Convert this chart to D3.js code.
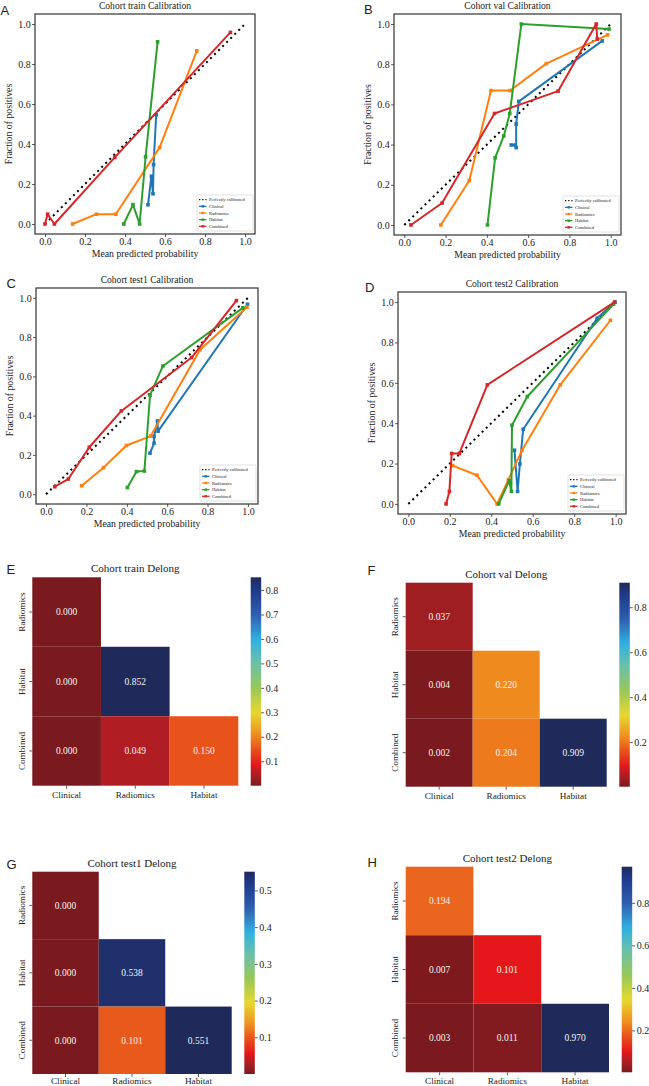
<!DOCTYPE html>
<html>
<head>
<meta charset="utf-8">
<script src="https://cdn.jsdelivr.net/npm/d3@7/dist/d3.min.js"></script>
<style>
  body { margin: 0; background: #fff; }
  svg { display: block; }
</style>
</head>
<body>
<svg id="fig" width="649" height="1086"></svg>
<script>
// ---- data ----
const models = ['Clinical', 'Radiomics', 'Habitat', 'Combined'];
const modelColors = ['#1f77b4', '#ff7f0e', '#2ca02c', '#d62728'];
const calTicks = [0, 0.2, 0.4, 0.6, 0.8, 1.0];
const perfectLine = [[0, 0], [1, 1]];

// calibration curves: [mean predicted, fraction of positives], one list per model
const trainCal = [
    [[0.515, 0.096], [0.532, 0.239], [0.540, 0.151], [0.543, 0.297], [0.556, 0.546]],
    [[0.138, 0.0], [0.257, 0.049], [0.354, 0.049], [0.573, 0.382], [0.759, 0.866]],
    [[0.394, 0.0], [0.440, 0.097], [0.473, 0.0], [0.503, 0.336], [0.563, 0.911]],
    [[0.0, 0.0], [0.013, 0.049], [0.047, 0.0], [0.349, 0.333], [0.927, 0.958]]
];
const valCal = [
    [[0.518, 0.398], [0.537, 0.398], [0.542, 0.385], [0.542, 0.502], [0.555, 0.615], [0.959, 0.916]],
    [[0.177, 0.0], [0.315, 0.221], [0.420, 0.669], [0.513, 0.669], [0.688, 0.803], [0.985, 0.946]],
    [[0.403, 0.0], [0.440, 0.334], [0.482, 0.443], [0.511, 0.555], [0.567, 1.0], [0.992, 0.975]],
    [[0.032, 0.0], [0.183, 0.109], [0.437, 0.555], [0.745, 0.666], [0.930, 1.0], [0.935, 0.925]]
];
const test1Cal = [
    [[0.515, 0.209], [0.535, 0.260], [0.535, 0.294], [0.552, 0.373], [0.555, 0.321], [0.998, 0.967]],
    [[0.176, 0.043], [0.284, 0.135], [0.398, 0.248], [0.518, 0.296], [0.763, 0.735], [0.995, 0.952]],
    [[0.403, 0.034], [0.448, 0.115], [0.487, 0.118], [0.515, 0.504], [0.579, 0.653], [0.975, 0.949]],
    [[0.043, 0.038], [0.110, 0.077], [0.214, 0.239], [0.373, 0.424], [0.721, 0.696], [0.943, 0.986]]
];
const test2Cal = [
    [[0.512, 0.266], [0.527, 0.062], [0.538, 0.198], [0.554, 0.370], [0.911, 0.920], [0.997, 1.0]],
    [[0.214, 0.190], [0.331, 0.142], [0.428, 0.0], [0.483, 0.120], [0.548, 0.265], [0.733, 0.590], [0.975, 0.910]],
    [[0.436, 0.0], [0.486, 0.115], [0.497, 0.062], [0.500, 0.390], [0.574, 0.532], [0.990, 0.990]],
    [[0.182, 0.0], [0.198, 0.062], [0.209, 0.250], [0.246, 0.250], [0.381, 0.590], [0.995, 1.0]]
];

// DeLong p-values (lower triangle)
const delongCols = ['Clinical', 'Radiomics', 'Habitat'];
const delongRows = ['Radiomics', 'Habitat', 'Combined'];
const trainP = [[0.000], [0.000, 0.852], [0.000, 0.049, 0.150]];
const valP = [[0.037], [0.004, 0.220], [0.002, 0.204, 0.909]];
const test1P = [[0.000], [0.000, 0.538], [0.000, 0.101, 0.551]];
const test2P = [[0.194], [0.007, 0.101], [0.003, 0.011, 0.970]];
const trainCbarTicks = [0.1, 0.2, 0.3, 0.4, 0.5, 0.6, 0.7, 0.8];
const valCbarTicks = [0.2, 0.4, 0.6, 0.8];
const test1CbarTicks = [0.1, 0.2, 0.3, 0.4, 0.5];
const test2CbarTicks = [0.2, 0.4, 0.6, 0.8];

// colour map (dark red -> yellow -> cyan -> navy)
const cmapStops = [
    [0, '#7a1a1e'], [0.04, '#a01e22'], [0.06, '#b21e24'], [0.10, '#e4171b'],
    [0.18, '#e8561c'], [0.24, '#ef8a1f'], [0.35, '#e8d830'], [0.47, '#98c858'],
    [0.59, '#6cc0a8'], [0.70, '#30b0e0'], [0.82, '#2e5fb0'], [0.94, '#1e3a8a'], [1, '#1f2a5a']
];

const serif = 'Liberation Serif, Times New Roman, serif';
const sans = 'Liberation Sans, Arial, sans-serif';
const svg = d3.select('#fig');

const cmap = d3.scaleLinear()
    .domain(cmapStops.map(s => s[0]))
    .range(cmapStops.map(s => s[1]))
    .interpolate(d3.interpolateRgb)
    .clamp(true);

function panelLetter(letter, x, y) {
    svg.append('text')
        .attr('x', x).attr('y', y)
        .attr('font-family', sans)
        .attr('font-size', '13px')
        .attr('fill', '#222')
        .text(letter);
}

// ---- calibration plot ----
function drawCalibration(frame, title, series) {
    const g = svg.append('g');
    const x = d3.scaleLinear().domain([-0.05, 1.05]).range([frame.x, frame.x + frame.w]);
    const y = d3.scaleLinear().domain([-0.05, 1.05]).range([frame.y + frame.h, frame.y]);
    const line = d3.line().x(d => x(d[0])).y(d => y(d[1]));

    // Perfectly calibrated
    g.append('path')
        .attr('d', line(perfectLine))
        .attr('fill', 'none')
        .attr('stroke', '#000')
        .attr('stroke-width', 2)
        .attr('stroke-dasharray', '2,3.7');

    series.forEach((pts, i) => {
        g.append('path')
            .attr('d', line(pts))
            .attr('fill', 'none')
            .attr('stroke', modelColors[i])
            .attr('stroke-width', 2)
            .attr('stroke-linejoin', 'round');
        g.selectAll(null)
            .data(pts)
            .enter()
            .append('rect')
            .attr('x', d => x(d[0]) - 1.8)
            .attr('y', d => y(d[1]) - 1.8)
            .attr('width', 3.6)
            .attr('height', 3.6)
            .attr('fill', modelColors[i]);
    });

    // axes
    const fmt = d3.format('.1f');
    const xAxis = g.append('g')
        .attr('transform', `translate(0,${frame.y + frame.h})`)
        .call(d3.axisBottom(x).tickValues(calTicks).tickFormat(fmt).tickSize(3).tickPadding(1));
    xAxis.select('.domain').remove();
    xAxis.selectAll('text').attr('y', 10.5).attr('dy', 0);

    const yAxis = g.append('g')
        .attr('transform', `translate(${frame.x},0)`)
        .call(d3.axisLeft(y).tickValues(calTicks).tickFormat(fmt).tickSize(3).tickPadding(1.2));
    yAxis.select('.domain').remove();

    g.selectAll('.tick text')
        .attr('font-family', serif)
        .attr('font-size', '10px')
        .attr('fill', '#222');
    g.selectAll('.tick line').attr('stroke', '#333').attr('stroke-width', 0.8);

    g.append('rect')
        .attr('x', frame.x).attr('y', frame.y)
        .attr('width', frame.w).attr('height', frame.h)
        .attr('fill', 'none')
        .attr('stroke', '#333')
        .attr('stroke-width', 1.2);

    // labels
    g.append('text')
        .attr('x', frame.x + frame.w / 2)
        .attr('y', frame.y - 5.5)
        .attr('text-anchor', 'middle')
        .attr('font-family', serif)
        .attr('font-size', '9.6px')
        .attr('fill', '#222')
        .text(title);

    g.append('text')
        .attr('x', frame.x + frame.w / 2)
        .attr('y', frame.y + frame.h + 22.5)
        .attr('text-anchor', 'middle')
        .attr('font-family', serif)
        .attr('font-size', '9.8px')
        .attr('fill', '#222')
        .text('Mean predicted probability');

    g.append('text')
        .attr('transform', `translate(${frame.x - 26},${frame.y + frame.h / 2}) rotate(-90)`)
        .attr('text-anchor', 'middle')
        .attr('dy', '0.35em')
        .attr('font-family', serif)
        .attr('font-size', '9.8px')
        .attr('fill', '#222')
        .text('Fraction of positives');

    // legend
    const lw = 56, lh = 36;
    const lx = frame.x + frame.w - 2 - lw;
    const ly = frame.y + frame.h - 3 - lh;
    const leg = g.append('g');
    leg.append('rect')
        .attr('x', lx).attr('y', ly)
        .attr('width', lw).attr('height', lh)
        .attr('rx', 1)
        .attr('fill', '#fff')
        .attr('stroke', '#ccc')
        .attr('stroke-width', 0.6);
    const labels = ['Perfectly calibrated'].concat(models);
    labels.forEach((lab, i) => {
        const ry = ly + 4.7 + i * 6.65;
        if (i === 0) {
            leg.append('line')
                .attr('x1', lx + 2).attr('x2', lx + 9.5)
                .attr('y1', ry).attr('y2', ry)
                .attr('stroke', '#000')
                .attr('stroke-width', 1.3)
                .attr('stroke-dasharray', '1.3,1.9');
        } else {
            leg.append('line')
                .attr('x1', lx + 2).attr('x2', lx + 9.5)
                .attr('y1', ry).attr('y2', ry)
                .attr('stroke', modelColors[i - 1])
                .attr('stroke-width', 1.3);
            leg.append('rect')
                .attr('x', lx + 5.75 - 1.2).attr('y', ry - 1.2)
                .attr('width', 2.4).attr('height', 2.4)
                .attr('fill', modelColors[i - 1]);
        }
        leg.append('text')
            .attr('x', lx + 12)
            .attr('y', ry)
            .attr('dy', '0.35em')
            .attr('font-family', serif)
            .attr('font-size', '4.6px')
            .attr('fill', '#222')
            .text(lab);
    });
}

// ---- DeLong heatmap ----
function drawDelong(box, cbarX, title, pvals, cbarTicks, id, labelGap) {
    const g = svg.append('g');
    const x = d3.scaleBand().domain(delongCols).range([box.x, box.x + box.w]);
    const y = d3.scaleBand().domain(delongRows).range([box.y, box.y + box.h]);
    const ext = d3.extent(pvals.flat());
    const norm = d3.scaleLinear().domain(ext).range([0, 1]);

    pvals.forEach((row, i) => {
        row.forEach((v, j) => {
            g.append('rect')
                .attr('x', x(delongCols[j]))
                .attr('y', y(delongRows[i]))
                .attr('width', x.bandwidth())
                .attr('height', y.bandwidth())
                .attr('fill', cmap(norm(v)));
            g.append('text')
                .attr('x', x(delongCols[j]) + x.bandwidth() / 2)
                .attr('y', y(delongRows[i]) + y.bandwidth() / 2)
                .attr('dy', '0.35em')
                .attr('text-anchor', 'middle')
                .attr('font-family', serif)
                .attr('font-size', '9.5px')
                .attr('fill', '#f2f2f2')
                .text(d3.format('.3f')(v));
        });
    });

    const xAxis = g.append('g')
        .attr('transform', `translate(0,${box.y + box.h})`)
        .call(d3.axisBottom(x).tickSize(3).tickPadding(2));
    xAxis.select('.domain').remove();
    xAxis.selectAll('text').attr('y', labelGap).attr('dy', 0);

    const yAxis = g.append('g')
        .attr('transform', `translate(${box.x},0)`)
        .call(d3.axisLeft(y).tickSize(3));
    yAxis.select('.domain').remove();
    yAxis.selectAll('text')
        .attr('x', null).attr('dy', null)
        .attr('transform', 'translate(-10.6,0) rotate(-90)')
        .attr('dy', '0.35em')
        .attr('text-anchor', 'middle');

    g.selectAll('.tick text')
        .attr('font-family', serif)
        .attr('font-size', '9.2px')
        .attr('fill', '#222');
    g.selectAll('.tick line').attr('stroke', '#333').attr('stroke-width', 0.8);

    g.append('text')
        .attr('x', box.x + box.w / 2)
        .attr('y', box.y - 5)
        .attr('text-anchor', 'middle')
        .attr('font-family', serif)
        .attr('font-size', '11px')
        .attr('fill', '#222')
        .text(title);

    // colour bar
    const cbW = 10.5;
    const grad = svg.append('defs').append('linearGradient')
        .attr('id', id)
        .attr('x1', 0).attr('y1', 1).attr('x2', 0).attr('y2', 0);
    d3.range(0, 1.0001, 0.02).forEach(t => {
        grad.append('stop').attr('offset', t).attr('stop-color', cmap(t));
    });
    g.append('rect')
        .attr('x', cbarX).attr('y', box.y)
        .attr('width', cbW).attr('height', box.h)
        .attr('fill', `url(#${id})`);
    const cy = d3.scaleLinear().domain(ext).range([box.y + box.h, box.y]);
    const cAxis = g.append('g')
        .attr('transform', `translate(${cbarX + cbW},0)`)
        .call(d3.axisRight(cy).tickValues(cbarTicks).tickFormat(d3.format('.1f')).tickSize(3).tickPadding(1.5));
    cAxis.select('.domain').remove();
    cAxis.selectAll('text')
        .attr('font-family', serif)
        .attr('font-size', '10px')
        .attr('fill', '#222');
    cAxis.selectAll('line').attr('stroke', '#333').attr('stroke-width', 0.8);
}

drawCalibration({ x: 35, y: 14, w: 220, h: 220 }, 'Cohort train Calibration', trainCal);
drawCalibration({ x: 394, y: 14, w: 227, h: 221 }, 'Cohort val Calibration', valCal);
drawCalibration({ x: 36, y: 288, w: 222, h: 216 }, 'Cohort test1 Calibration', test1Cal);
drawCalibration({ x: 398, y: 292, w: 228, h: 222 }, 'Cohort test2 Calibration', test2Cal);

drawDelong({ x: 32.3, y: 577.3, w: 206, h: 208.4 }, 250.7, 'Cohort train Delong', trainP, trainCbarTicks, 'cb-e', 12.6);
drawDelong({ x: 405.7, y: 582.7, w: 201, h: 204 }, 619.3, 'Cohort val Delong', valP, valCbarTicks, 'cb-f', 12.6);
drawDelong({ x: 32.3, y: 871.7, w: 199.4, h: 202.3 }, 244.3, 'Cohort test1 Delong', test1P, test1CbarTicks, 'cb-g', 10);
drawDelong({ x: 405.7, y: 866.7, w: 203.3, h: 205.6 }, 621.7, 'Cohort test2 Delong', test2P, test2CbarTicks, 'cb-h', 11.5);

panelLetter('A', 0.5, 14.5);
panelLetter('B', 364, 14);
panelLetter('C', 6.5, 288);
panelLetter('D', 365, 291.5);
panelLetter('E', 6.5, 573.5);
panelLetter('F', 367.5, 575);
panelLetter('G', 6.5, 868.5);
panelLetter('H', 367.5, 866.5);
</script>
</body>
</html>
